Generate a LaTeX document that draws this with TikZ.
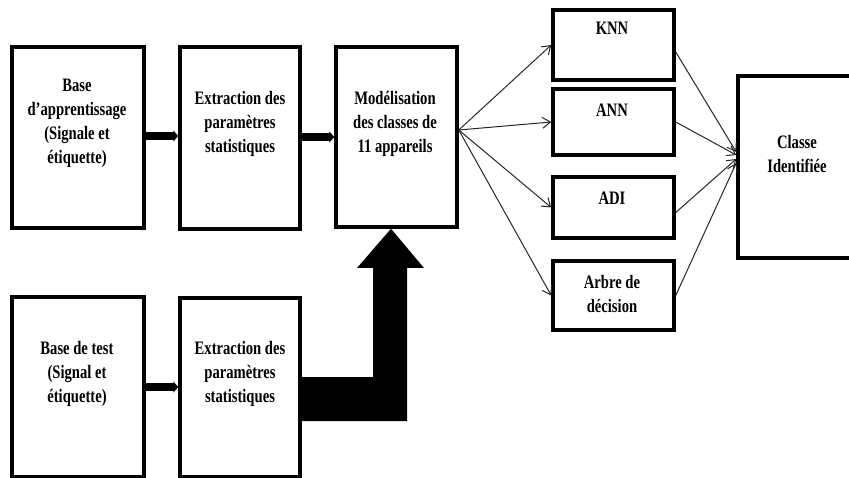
\documentclass[tikz,border=0pt]{standalone}
\usepackage{fontspec}
\setmainfont{Liberation Serif}
\newfontfamily\lblfont[FakeStretch=0.77]{Liberation Serif}
\usetikzlibrary{arrows.meta,calc}

\begin{document}
\begin{tikzpicture}[x=1pt,y=-1pt,
  box/.style={draw, line width=3.5pt, inner sep=0pt},
  lbl/.style={align=center, inner sep=0pt,
    font=\lblfont\bfseries\fontsize{19}{24}\selectfont},
  fatarrow/.style={line width=8pt, -{Triangle[length=5pt,width=11pt]}},
  thinarrow/.style={line width=1pt, black!85,
    -{Straight Barb[length=8pt,width=11pt]}}]

\clip (0,0) rectangle (849,478);

% blocks
\node[box, minimum width=132pt, minimum height=181pt] (b1) at (78,137.5) {};
\node[box, minimum width=120pt, minimum height=182pt] (b2) at (240,138) {};
\node[box, minimum width=121pt, minimum height=180pt] (b3) at (396.5,137) {};
\node[box, minimum width=132pt, minimum height=180pt] (b4) at (78,387) {};
\node[box, minimum width=120pt, minimum height=179pt] (b5) at (240,387.5) {};
\node[box, minimum width=121pt, minimum height=70pt] (knn) at (613.5,45) {};
\node[box, minimum width=121pt, minimum height=66pt] (ann) at (613.5,122) {};
\node[box, minimum width=121pt, minimum height=61pt] (adi) at (613.5,207.5) {};
\node[box, minimum width=121pt, minimum height=69pt] (arb) at (613.5,295.5) {};
\node[box, minimum width=120pt, minimum height=182pt] (cls) at (798,167) {};

% block texts
\node[lbl] (t1) at (77,123) {Base\\d’apprentissage\\(Signale et\\étiquette)};
\node[lbl] (t2) at (240,124) {Extraction des\\paramètres\\statistiques};
\node[lbl] (t3) at (395,124) {Modélisation\\des classes de\\11 appareils};
\node[lbl] (t4) at (77,374) {Base de test\\(Signal et\\étiquette)};
\node[lbl] (t5) at (240,374) {Extraction des\\paramètres\\statistiques};
\node[lbl] (tk) at (612,28) {KNN};
\node[lbl] (ta) at (612,110) {ANN};
\node[lbl] (td) at (612,198) {ADI};
\node[lbl] (tb) at (612,294) {Arbre de\\décision};
\node[lbl] (tc) at (797,154) {Classe\\Identifiée};

% thick arrows between the blocks
\draw[fatarrow] (b1.east |- 0,136) -- (b2.west |- 0,136);
\draw[fatarrow] (b2.east |- 0,137) -- (b3.west |- 0,137);
\draw[fatarrow] (b4.east |- 0,387) -- (b5.west |- 0,387);

% large block arrow from the test features up to the model
\fill (b5.east |- 0,377) -- (373,377) -- (373,268) -- (357,268)
  -- (391,0 |- b3.south) -- (424,268) -- (407,268) -- (407,421)
  -- (b5.east |- 0,421) -- cycle;

% model to classifiers
\coordinate (fan) at (b3.east |- 0,130);
\draw[thinarrow] (fan) -- (knn.west);
\draw[thinarrow] (fan) -- (ann.west);
\draw[thinarrow] (fan) -- (adi.west);
\draw[thinarrow] (fan) -- (arb.west);

% classifiers to identified class
\draw[thinarrow] ($(knn.east)+(0,7)$) -- ($(cls.west)+(0,-15)$);
\draw[thinarrow] (ann.east) -- ($(cls.west)+(0,-12)$);
\draw[thinarrow] ($(adi.east)+(0,5)$) -- ($(cls.west)+(0,-8)$);
\draw[thinarrow] (arb.east) -- ($(cls.west)+(0,-4)$);

\end{tikzpicture}
\end{document}
